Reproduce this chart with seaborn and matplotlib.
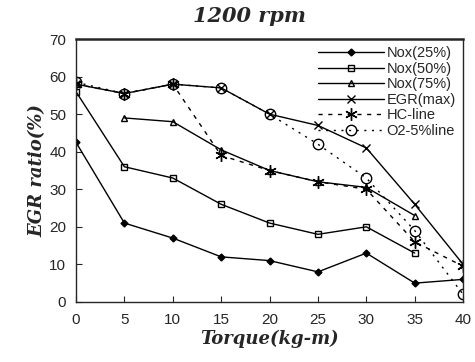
import numpy as np
import matplotlib
matplotlib.use("Agg")
import matplotlib.pyplot as plt
import seaborn as sns

# -------------------------
# DATA
# -------------------------
torque = [0, 5, 10, 15, 20, 25, 30, 35, 40]

nox25 = [42.5, 21, 17, 12, 11, 8, 13, 5, 6]
nox50 = [56, 36, 33, 26, 21, 18, 20, 13, np.nan]
nox75 = [np.nan, 49, 48, 40.5, 35, 32, 30.5, 23, np.nan]
egr_max = [58, 55.5, 58, 57, 50, 47, 41, 26, 10]
hc_line = [58, 55.5, 58, 39, 35, 32, 30, 16, 9.5]
o2_line = [58.5, 55.5, 58, 57, 50, 42, 33, 19, 2]

# -------------------------
# PLOT
# -------------------------
sns.set_style("ticks")
plt.rcParams['font.family'] = ['Liberation Sans', 'DejaVu Sans']
fig, ax = plt.subplots(figsize=(4.75, 3.62), dpi=100)
fig.subplots_adjust(left=0.16, right=0.975, bottom=0.166, top=0.892)

star = (6, 2, 0)
series = [
    ("Nox(25%)", nox25, "D", 3.5, "-", "black"),
    ("Nox(50%)", nox50, "s", 4.5, "-", "none"),
    ("Nox(75%)", nox75, "^", 4.5, "-", "none"),
    ("EGR(max)", egr_max, "x", 5.5, "-", "black"),
    ("HC-line", hc_line, star, 9, (0, (3, 4)), "black"),
    ("O2-5%line", o2_line, "o", 7.5, (0, (1.5, 4)), "none"),
]

for label, vals, mk, ms, ls, mfc in series:
    sns.lineplot(x=torque, y=vals, ax=ax, color="black", marker=mk,
                 markersize=ms, markerfacecolor=mfc, markeredgecolor="black",
                 markeredgewidth=1.0, linestyle=ls, linewidth=1.0,
                 label=label)

ax.set_xlim(0, 40)
ax.set_ylim(0, 70)
ax.set_xticks(range(0, 41, 5))
ax.set_yticks(range(0, 71, 10))
ax.tick_params(direction="in", length=4, labelsize=11)
ax.tick_params(axis="x", pad=8)
ax.tick_params(axis="y", pad=7)
for s in ax.spines.values():
    s.set_linewidth(1.0)
ax.spines["top"].set_linewidth(1.8)

font_lbl = dict(family="DejaVu Serif", weight="bold", style="italic", size=13)
ax.set_title("1200 rpm", pad=12, x=0.447, **dict(font_lbl, size=15))
ax.set_xlabel("Torque(kg-m)", labelpad=2, **font_lbl)
ax.set_ylabel("EGR ratio(%)", labelpad=2, **font_lbl)

ax.legend(loc="upper right", frameon=False, fontsize=10.5, handlelength=4.5,
          labelspacing=0.1, borderaxespad=0.1, handletextpad=0.2)

plt.savefig("out.png", dpi=100)
